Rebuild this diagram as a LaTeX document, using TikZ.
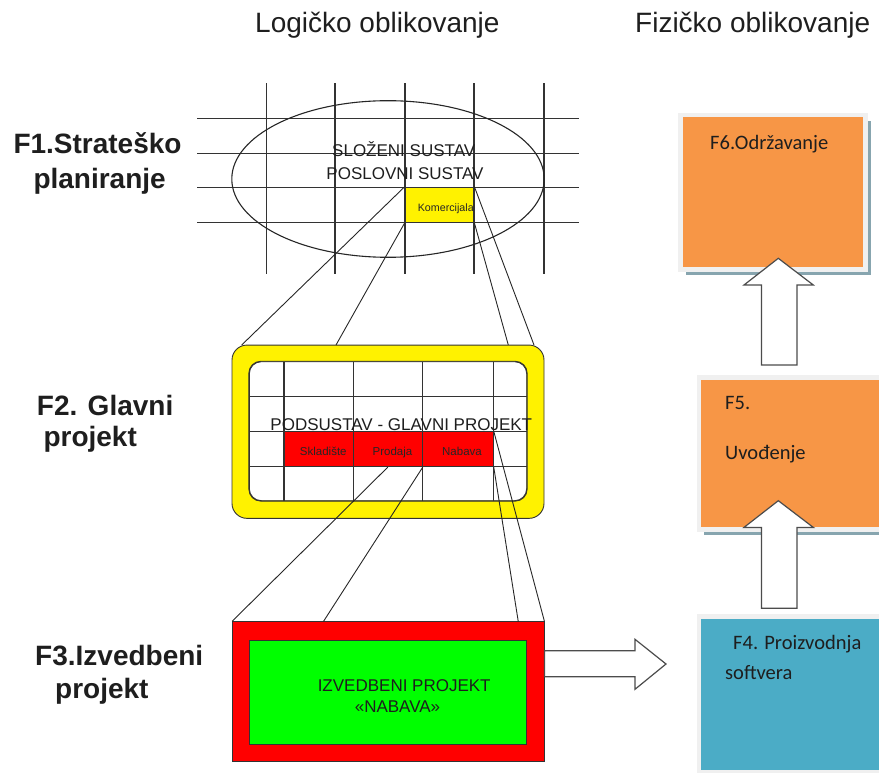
\documentclass[tikz,border=0pt]{standalone}
\usepackage{fontspec}
\setmainfont{Liberation Sans}
\newfontfamily\calibri{Carlito}
\usetikzlibrary{shadows}

\definecolor{phaseorange}{HTML}{F79646}
\definecolor{phaseblue}{HTML}{4BACC6}
\definecolor{framegrey}{HTML}{F0F0F0}
\definecolor{shadowteal}{RGB}{135,165,175}
\definecolor{inktext}{HTML}{1E1E1E}

\begin{document}
\begin{tikzpicture}[x=1pt,y=-1pt,
    gridline/.style={line width=1.1pt, draw=black!80},
    cell/.style={draw=black!80, line width=0.9pt, inner sep=0pt},
    link/.style={line width=0.9pt, draw=black!85},
    blockarrow/.style={fill=white, draw=black!70, line width=1.2pt, line join=miter},
    phasebox/.style={draw=framegrey, line width=4.7pt, inner sep=0pt,
        drop shadow={shadow xshift=5.3pt, shadow yshift=-5.6pt, fill=shadowteal, opacity=1}},
    title/.style={anchor=base west, inner sep=0pt, text=inktext, font=\fontsize{28}{32}\selectfont},
    phaselabel/.style={anchor=base west, inner sep=0pt, text=inktext, font=\fontsize{28}{32}\selectfont\bfseries},
    bigtext/.style={anchor=base, inner sep=0pt, text=inktext, font=\fontsize{17}{20}\selectfont},
    smalltext/.style={anchor=base, inner sep=0pt, text=black!85, font=\fontsize{11}{13}\selectfont},
    boxtext/.style={anchor=base west, inner sep=0pt, text=inktext, font=\calibri\fontsize{20.5}{24}\selectfont}]

    \useasboundingbox (0,0) rectangle (879,773);

    % titles
    \node[title] (logic) at (255,33) {Logičko oblikovanje};
    \node[title] (phys) at (635,33) {Fizičko oblikovanje};

    \node[phaselabel] (f1a) at (13.3,153.3) {F1.Strateško};
    \node[phaselabel] (f1b) at (33.3,188.3) {planiranje};
    \node[phaselabel] (f2a) at (36.7,415) {F2. Glavni};
    \node[phaselabel] (f2b) at (43.3,446.7) {projekt};
    \node[phaselabel] (f3a) at (35,665) {F3.Izvedbeni};
    \node[phaselabel] (f3b) at (55,698.3) {projekt};

    % F1: grid and ellipse
    \node[cell, fill=yellow, minimum width=69pt, minimum height=35.4pt] (kom) at (439.5,205) {};
    \foreach \x in {266.7,335,405,474,544}
        \draw[gridline] (\x,83.3) -- (\x,274);
    \foreach \y in {118.3,153.3,187.3,222.7}
        \draw[gridline] (197,\y) -- (579,\y);
    \draw[line width=1.1pt, draw=black!85] (388,179) ellipse [x radius=156.2, y radius=78.3];

    \node[bigtext] (slozeni) at (403.7,156.7) {SLOŽENI SUSTAV};
    \node[bigtext] (poslovni) at (405,179.3) {POSLOVNI SUSTAV};
    \node[smalltext, font=\fontsize{10.7}{13}\selectfont] (komtxt) at (445.8,211.7) {Komercijala};

    % F2: glavni projekt
    \node[draw=black!80, line width=0.9pt, fill=yellow, rounded corners=15pt,
        minimum width=312pt, minimum height=173.3pt] (glavni) at (388,431.7) {};
    \node[draw=black!80, line width=0.9pt, fill=white, rounded corners=12pt,
        minimum width=277.4pt, minimum height=139pt] (pod) at (388,431.2) {};
    \begin{scope}
        \clip[rounded corners=12pt] (pod.south west) rectangle (pod.north east);
        \foreach \x in {284,353.3,422.3,493.3}
            \draw[gridline] (\x,361.7) -- (\x,500.7);
        \foreach \y in {396.7,431.7,466.7}
            \draw[gridline] (249.3,\y) -- (526.7,\y);
    \end{scope}
    \draw[line width=0.9pt, draw=black!80, rounded corners=12pt] (pod.south west) rectangle (pod.north east);

    \node[cell, fill=red, minimum width=69.3pt, minimum height=35pt] (skl) at (318.7,449.2) {};
    \node[cell, fill=red, minimum width=69pt, minimum height=35pt] (prod) at (387.8,449.2) {};
    \node[cell, fill=red, minimum width=71pt, minimum height=35pt] (nab) at (457.8,449.2) {};

    \node[bigtext] (podsustav) at (401.3,430) {PODSUSTAV - GLAVNI PROJEKT};
    \node[smalltext, font=\fontsize{11.5}{13}\selectfont] (skltxt) at (323.3,455) {Skladište};
    \node[smalltext, font=\fontsize{11.5}{13}\selectfont] (prodtxt) at (392.5,455) {Prodaja};
    \node[smalltext, font=\fontsize{11.5}{13}\selectfont] (nabtxt) at (462,455) {Nabava};

    % F3: izvedbeni projekt
    \node[draw=black!80, line width=0.9pt, fill=red, minimum width=311.3pt, minimum height=140pt] (izv) at (388.3,691.7) {};
    \node[draw=black!80, line width=0.9pt, fill=green, minimum width=276.7pt, minimum height=104pt] (nabproj) at (387.7,692) {};
    \node[bigtext] (izvtxt) at (404.2,691.7) {IZVEDBENI PROJEKT};
    \node[bigtext] (nabavatxt) at (397.5,712.7) {«NABAVA»};

    % connectors F1 -> F2 -> F3
    \coordinate (g1) at (241.7,345);
    \coordinate (g2) at (336,345);
    \coordinate (g3) at (508.3,345);
    \coordinate (g4) at (534,345);
    \draw[link] (kom.north west) -- (g1);
    \draw[link] (kom.south west) -- (g2);
    \draw[link] (kom.south east) -- (g3);
    \draw[link] (kom.north east) -- (g4);

    \coordinate (i2) at (323.3,621.7);
    \coordinate (i3) at (518.3,621.7);
    \draw[link] (prod.south) -- (izv.north west);
    \draw[link] (prod.south east) -- (i2);
    \draw[link] (nab.south east) -- (i3);
    \draw[link] (nab.north east) -- (izv.north east);

    % F4 .. F6
    \node[phasebox, fill=phaseorange, minimum width=185.3pt, minimum height=154.3pt] (f6) at (773,192.2) {};
    \node[phasebox, fill=phaseorange, minimum width=182.6pt, minimum height=152.3pt] (f5) at (790.3,453.5) {};
    \node[phasebox, fill=phaseblue, minimum width=182.6pt, minimum height=156.3pt] (f4) at (790.3,694.5) {};

    \node[boxtext] (t6) at (710,149.5) {F6.Održavanje};
    \node[boxtext] (t5a) at (725,409) {F5.};
    \node[boxtext] (t5b) at (725,459) {Uvođenje};
    \node[boxtext] (t4a) at (733,649) {F4. Proizvodnja};
    \node[boxtext] (t4b) at (725,679) {softvera};

    % block arrows
    \filldraw[blockarrow] (izv.east |- 0,650.7) -- (635,650.7) -- (635,639.3) -- (666,664)
        -- (635,689.3) -- (635,676.7) -- (izv.east |- 0,676.7) -- cycle;
    \foreach \yt/\yb in {258.3/365, 500.7/608.3}
        \filldraw[blockarrow] (761.5,\yb) -- (797,\yb) -- (797,\yt+26.7) -- (813.3,\yt+26.7)
            -- (778.3,\yt) -- (744,\yt+26.7) -- (761.5,\yt+26.7) -- cycle;

\end{tikzpicture}
\end{document}
